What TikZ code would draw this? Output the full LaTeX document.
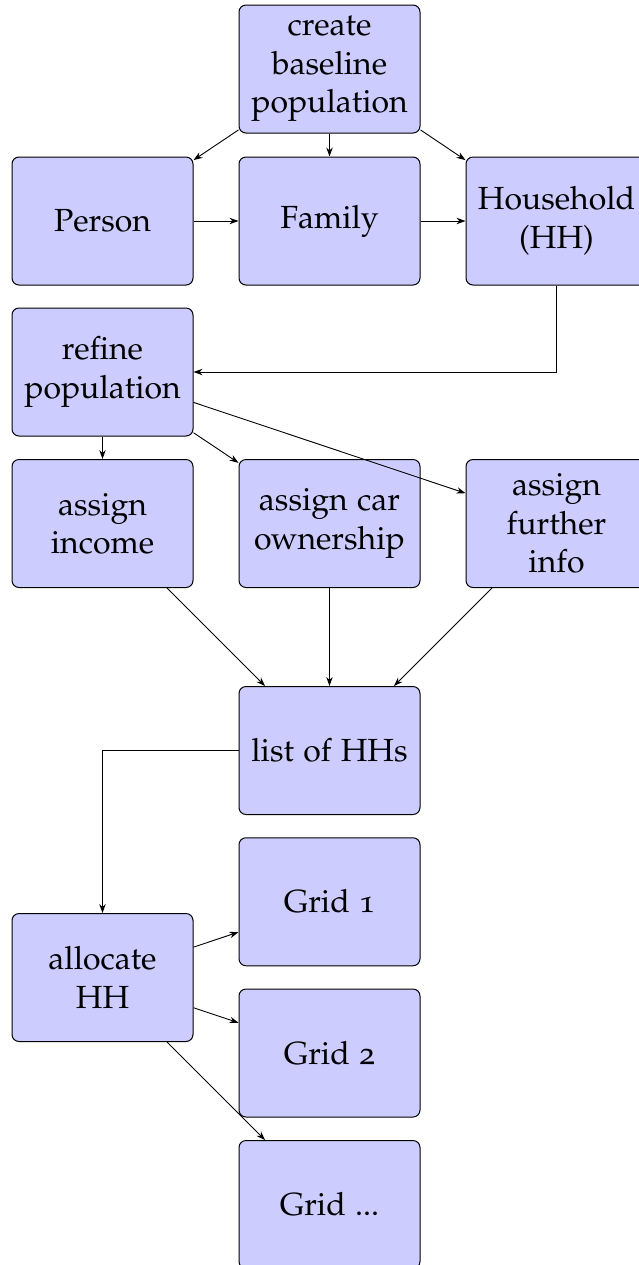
\documentclass[tikz,border=0pt]{standalone}
\usepackage[T1]{fontenc}
\usepackage[osf]{mathpazo}
\usetikzlibrary{arrows.meta}
\tikzset{
  box/.style={draw=black, line width=0.5pt, fill=blue!20, rounded corners=3.5pt,
    minimum width=90.5pt, minimum height=64pt, inner sep=0pt, align=center,
    font=\fontsize{16pt}{19.15pt}\selectfont},
  conn/.style={line width=0.45pt, -{Stealth[length=4.5pt,width=3.2pt]}}
}
\begin{document}
\begin{tikzpicture}[x=0.5pt,y=-0.5pt]
\useasboundingbox (0,0) rectangle (638,1265);
\node[box] (top) at (329.5,69) {create\\baseline\\population};
\node[box] (person) at (102.5,221) {Person};
\node[box] (family) at (329.5,221) {Family};
\node[box] (hh) at (556.5,221) {Household\\(HH)};
\node[box] (refine) at (102.5,372) {refine\\population};
\node[box] (income) at (102.5,523.5) {assign\\income};
\node[box] (car) at (329.5,523.5) {assign car\\ownership};
\node[box] (further) at (556.5,523.5) {assign\\further\\info};
\node[box] (list) at (329.5,750.5) {list of HHs};
\node[box] (grid1) at (329.5,901.75) {Grid 1};
\node[box] (alloc) at (102.5,977.5) {allocate\\HH};
\node[box] (grid2) at (329.5,1053) {Grid 2};
\node[box] (gridn) at (329.5,1204.5) {Grid ...};

\draw[conn] (top) -- (person);
\draw[conn] (top) -- (family);
\draw[conn] (top) -- (hh);
\draw[conn] (person) -- (family);
\draw[conn] (family) -- (hh);
\draw[conn] (hh.south) |- (refine.east);
\draw[conn] (refine) -- (income);
\draw[conn] (refine) -- (car);
\draw[conn] (refine) -- (further);
\draw[conn] (income) -- (list);
\draw[conn] (car) -- (list);
\draw[conn] (further) -- (list);
\draw[conn] (list.west) -| (alloc.north);
\draw[conn] (alloc) -- (grid1);
\draw[conn] (alloc) -- (grid2);
\draw[conn] (alloc) -- (gridn);
\end{tikzpicture}
\end{document}
